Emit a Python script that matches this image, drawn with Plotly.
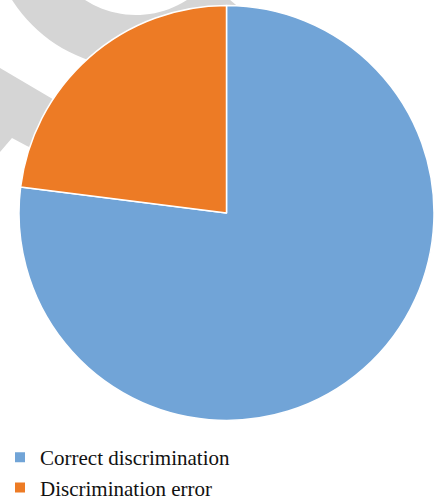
import numpy as np
import plotly.graph_objects as go

# Share of discrimination outcomes (%)
labels = ["Correct discrimination", "Discrimination error"]
values = [77, 23]
colors = ["#71A4D7", "#ED7B25"]

W, H = 434, 502


def px(x, y):
    """Pixel position -> paper coordinates."""
    return x / W, 1 - y / H


def ring_path(cx, cy, r_out, r_in, a0, a1, n=60):
    """Closed SVG path for an annular sector (angles in degrees, screen y down)."""
    ang = np.radians(np.linspace(a0, a1, n))
    outer = [px(cx + r_out * np.cos(a), cy + r_out * np.sin(a)) for a in ang]
    inner = [px(cx + r_in * np.cos(a), cy + r_in * np.sin(a)) for a in ang[::-1]]
    pts = outer + inner
    return "M" + " L".join(f"{x:.4f},{y:.4f}" for x, y in pts) + " Z"


def poly_path(points):
    pts = [px(x, y) for x, y in points]
    return "M" + " L".join(f"{x:.4f},{y:.4f}" for x, y in pts) + " Z"


grey = "#D5D5D5"
shapes = [
    dict(type="path", xref="paper", yref="paper", layer="below",
         path=ring_path(136, -79, 147, 94, 40, 215),
         fillcolor=grey, line=dict(width=0)),
    dict(type="path", xref="paper", yref="paper", layer="below",
         path=poly_path([(0, 68), (90, 121), (70, 165), (27, 146), (12, 138), (0, 152)]),
         fillcolor=grey, line=dict(width=0)),
]

# Pie placement
cx, cy, r = 227, 213, 208
x0, y0 = px(cx - r, cy + r)
x1, y1 = px(cx + r, cy - r)

fig = go.Figure(go.Pie(
    labels=labels,
    values=values,
    sort=False,
    direction="clockwise",
    rotation=0,
    marker=dict(colors=colors, line=dict(color="white", width=1.5)),
    textinfo="none",
    hoverinfo="label+percent",
    domain=dict(x=[max(x0, 0), min(x1, 1)], y=[max(y0, 0), min(y1, 1)]),
))

fig.update_layout(
    width=W, height=H,
    margin=dict(l=0, r=0, t=0, b=0, autoexpand=False),
    paper_bgcolor="white",
    plot_bgcolor="white",
    shapes=shapes,
    showlegend=True,
    legend=dict(
        x=0, y=-0.012, xanchor="left", yanchor="bottom",
        font=dict(family="Liberation Serif", size=21, color="#111111"),
        bgcolor="rgba(0,0,0,0)",
        tracegroupgap=0,
        itemsizing="constant",
    ),
)

fig.write_html("out.html")
